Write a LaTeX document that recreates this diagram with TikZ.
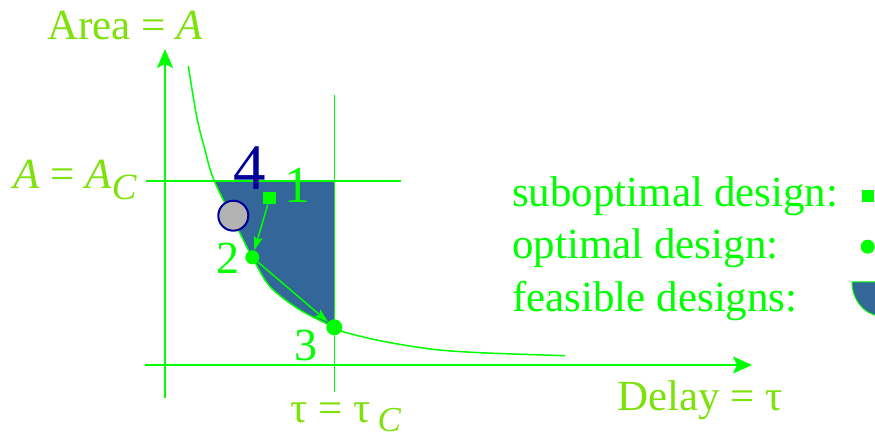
\documentclass[tikz,border=0pt]{standalone}
\usepackage{fontspec}
\setmainfont{Liberation Serif}
\usetikzlibrary{arrows.meta}
\definecolor{lime}{RGB}{0,255,0}
\definecolor{ylime}{RGB}{125,225,10}
\definecolor{navyb}{RGB}{0,0,153}
\definecolor{grayc}{RGB}{179,179,179}
\definecolor{bluef}{RGB}{51,102,153}
\tikzset{
  axisline/.style={lime,line width=2pt},
  thinline/.style={lime,line width=1.5pt},
  dotpt/.style={circle,fill=lime,inner sep=0pt},
  axislabel/.style={ylime,anchor=base west,inner sep=0pt,font=\fontsize{43}{43}\selectfont},
  legtext/.style={lime,anchor=base west,inner sep=0pt,font=\fontsize{43}{43}\selectfont},
  numlabel/.style={lime,anchor=base west,inner sep=0pt,font=\fontsize{46}{46}\selectfont},
}
\begin{document}
\begin{tikzpicture}[x=1pt,y=-1pt]
\useasboundingbox (0,0) rectangle (875,438);
% feasible region
\begin{scope}
  \clip (0,181) rectangle (334.3,438);
  \fill[bluef] plot[smooth] coordinates {(188.3,66) (196.7,116.7) (205,150) (214.3,181) (241.7,236.7) (252.3,257.3) (270,286.7) (300,310) (334.3,327.3) (343,331.7) (380,340.7) (430,349) (480,352.7) (565,355.7)} -- (565,0) -- (188.3,0) -- cycle;
\end{scope}
% lines
\coordinate (vb) at (165,398);
\coordinate (vt) at (165,49);
\coordinate (hl) at (145,365);
\coordinate (hr) at (752,365);
\coordinate (acl) at (146,181);
\coordinate (acr) at (401,181);
\coordinate (tct) at (334.3,95);
\coordinate (tcb) at (334.3,392);
\draw[thinline] (acl) -- (acr);
\draw[thinline] (tct) -- (tcb);
\draw[axisline,-{Stealth[length=19pt,width=16pt,inset=4pt]}] (vb) -- (vt);
\draw[axisline,-{Stealth[length=19pt,width=17pt,inset=4pt]}] (hl) -- (hr);
% curve
\draw[thinline] plot[smooth] coordinates {(188.3,66) (196.7,116.7) (205,150) (214.3,181) (241.7,236.7) (252.3,257.3) (270,286.7) (300,310) (334.3,327.3) (343,331.7) (380,340.7) (430,349) (480,352.7) (565,355.7)};
% design points
\node[circle,draw=navyb,line width=2pt,fill=grayc,minimum size=30pt,inner sep=0pt] (c4) at (233.3,215.7) {};
\node[fill=lime,inner sep=0pt,minimum size=12.7pt] (sq1) at (269.7,198) {};
\node[dotpt,minimum size=14pt] (p2) at (252.3,257.3) {};
\node[dotpt,minimum size=16pt] (p3) at (334.3,327.3) {};
\draw[thinline,-{Stealth[length=14pt,width=9pt,inset=3pt]}] (sq1) -- (p2);
\draw[thinline,-{Stealth[length=14pt,width=9pt,inset=3pt]}] (p2) -- (p3);
% number labels
\node[navyb,anchor=base west,inner sep=0pt,font=\fontsize{65}{65}\selectfont] (l4) at (233,190) {4};
\node[numlabel,font=\fontsize{52}{52}\selectfont] (l1) at (284,203) {1};
\node[numlabel] (l2) at (216,274) {2};
\node[numlabel] (l3) at (294,360) {3};
% axis labels
\node[axislabel] (areal) at (47,40) {Area = \textit{A}};
\node[axislabel] (acl2) at (13,189) {\textit{A} = \textit{A}\raisebox{-11pt}{\fontsize{37}{37}\selectfont\textit{C}}};
\node[axislabel] (tcl) at (290,422) {τ = τ\,\raisebox{-9pt}{\fontsize{35}{35}\selectfont\textit{C}}};
\node[axislabel] (dl) at (617,410) {Delay = τ};
% legend
\node[legtext] (lg1) at (512,207) {suboptimal design:};
\node[legtext] (lg2) at (512,259) {optimal design:};
\node[legtext] (lg3) at (512,311) {feasible designs:};
\node[fill=lime,inner sep=0pt,minimum size=12pt] (lsq) at (867.7,196) {};
\node[dotpt,minimum size=14pt] (ldot) at (867.7,246.7) {};
\fill[bluef,draw=lime,line width=1pt] (852,282) arc[start angle=180,end angle=0,x radius=30,y radius=34] -- cycle;
\end{tikzpicture}
\end{document}
